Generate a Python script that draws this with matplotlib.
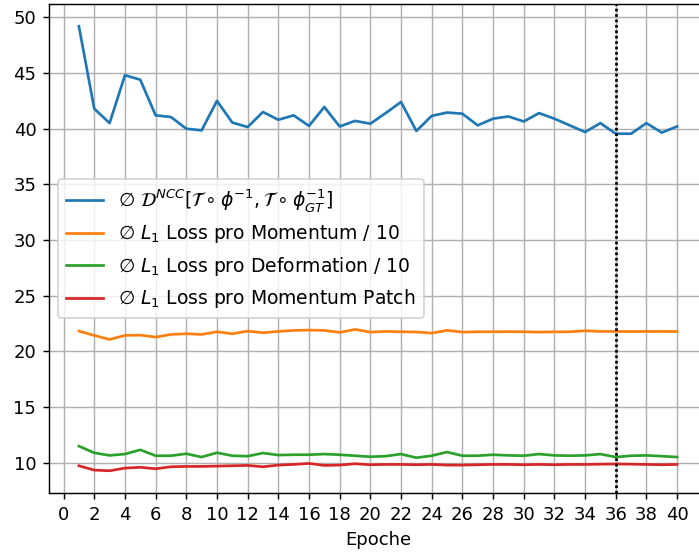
import matplotlib
matplotlib.use('Agg')
import matplotlib.pyplot as plt
import numpy as np

# mean losses per epoch
epochs = list(range(1, 41))

ncc = [49.2, 41.8, 40.5, 44.8, 44.4, 41.2, 41.05, 40.0, 39.85, 42.5,
       40.55, 40.15, 41.5, 40.8, 41.2, 40.25, 41.95, 40.2, 40.7, 40.45,
       41.4, 42.4, 39.8, 41.15, 41.45, 41.35, 40.3, 40.9, 41.1, 40.65,
       41.4, 40.9, 40.3, 39.7, 40.5, 39.55, 39.55, 40.5, 39.65, 40.2]

momentum = [21.83, 21.44, 21.08, 21.44, 21.47, 21.29, 21.53, 21.59, 21.53, 21.77,
            21.59, 21.83, 21.68, 21.8, 21.89, 21.92, 21.89, 21.71, 21.98, 21.74,
            21.8, 21.77, 21.75, 21.65, 21.9, 21.74, 21.77, 21.77, 21.78, 21.77,
            21.74, 21.76, 21.77, 21.86, 21.8, 21.8, 21.79, 21.8, 21.8, 21.8]

deformation = [11.5, 10.9, 10.67, 10.79, 11.17, 10.64, 10.64, 10.82, 10.52, 10.91,
               10.64, 10.6, 10.88, 10.7, 10.73, 10.73, 10.79, 10.73, 10.64, 10.55,
               10.6, 10.79, 10.46, 10.64, 10.97, 10.64, 10.64, 10.73, 10.67, 10.64,
               10.79, 10.67, 10.64, 10.67, 10.79, 10.52, 10.64, 10.67, 10.6, 10.52]

patch = [9.74, 9.35, 9.29, 9.53, 9.6, 9.47, 9.65, 9.68, 9.68, 9.71,
         9.74, 9.77, 9.65, 9.8, 9.86, 9.95, 9.77, 9.8, 9.92, 9.83,
         9.86, 9.86, 9.83, 9.86, 9.8, 9.8, 9.83, 9.86, 9.86, 9.83,
         9.86, 9.83, 9.86, 9.86, 9.88, 9.9, 9.88, 9.86, 9.83, 9.86]

best_epoch = 36

labels = [r'$\varnothing$ $\mathcal{D}^{NCC}[\mathcal{T} \circ \phi^{-1}, \mathcal{T} \circ \phi_{GT}^{-1}]$',
          r'$\varnothing$ $L_1$ Loss pro Momentum / 10',
          r'$\varnothing$ $L_1$ Loss pro Deformation / 10',
          r'$\varnothing$ $L_1$ Loss pro Momentum Patch']

# the screenshot looks like a higher dpi render, so use dpi 130
dpi = 130
fig = plt.figure(figsize=(699/dpi, 553/dpi), dpi=dpi)
# axes run past the right edge like in the original screenshot
ax = fig.add_axes([49/699, 60/553, 658/699, 489/553])

ax.plot(epochs, ncc, label=labels[0])
ax.plot(epochs, momentum, label=labels[1])
ax.plot(epochs, deformation, label=labels[2])
ax.plot(epochs, patch, label=labels[3])
ax.axvline(best_epoch, color='black', linestyle=(0, (1, 1)), linewidth=1.5)

ax.set_xticks(np.arange(0, 41, 2))
ax.set_xlabel('Epoche')
ax.grid(True)
ax.legend(loc='center left', fontsize=10.4)

plt.savefig('out.png', dpi=dpi)
